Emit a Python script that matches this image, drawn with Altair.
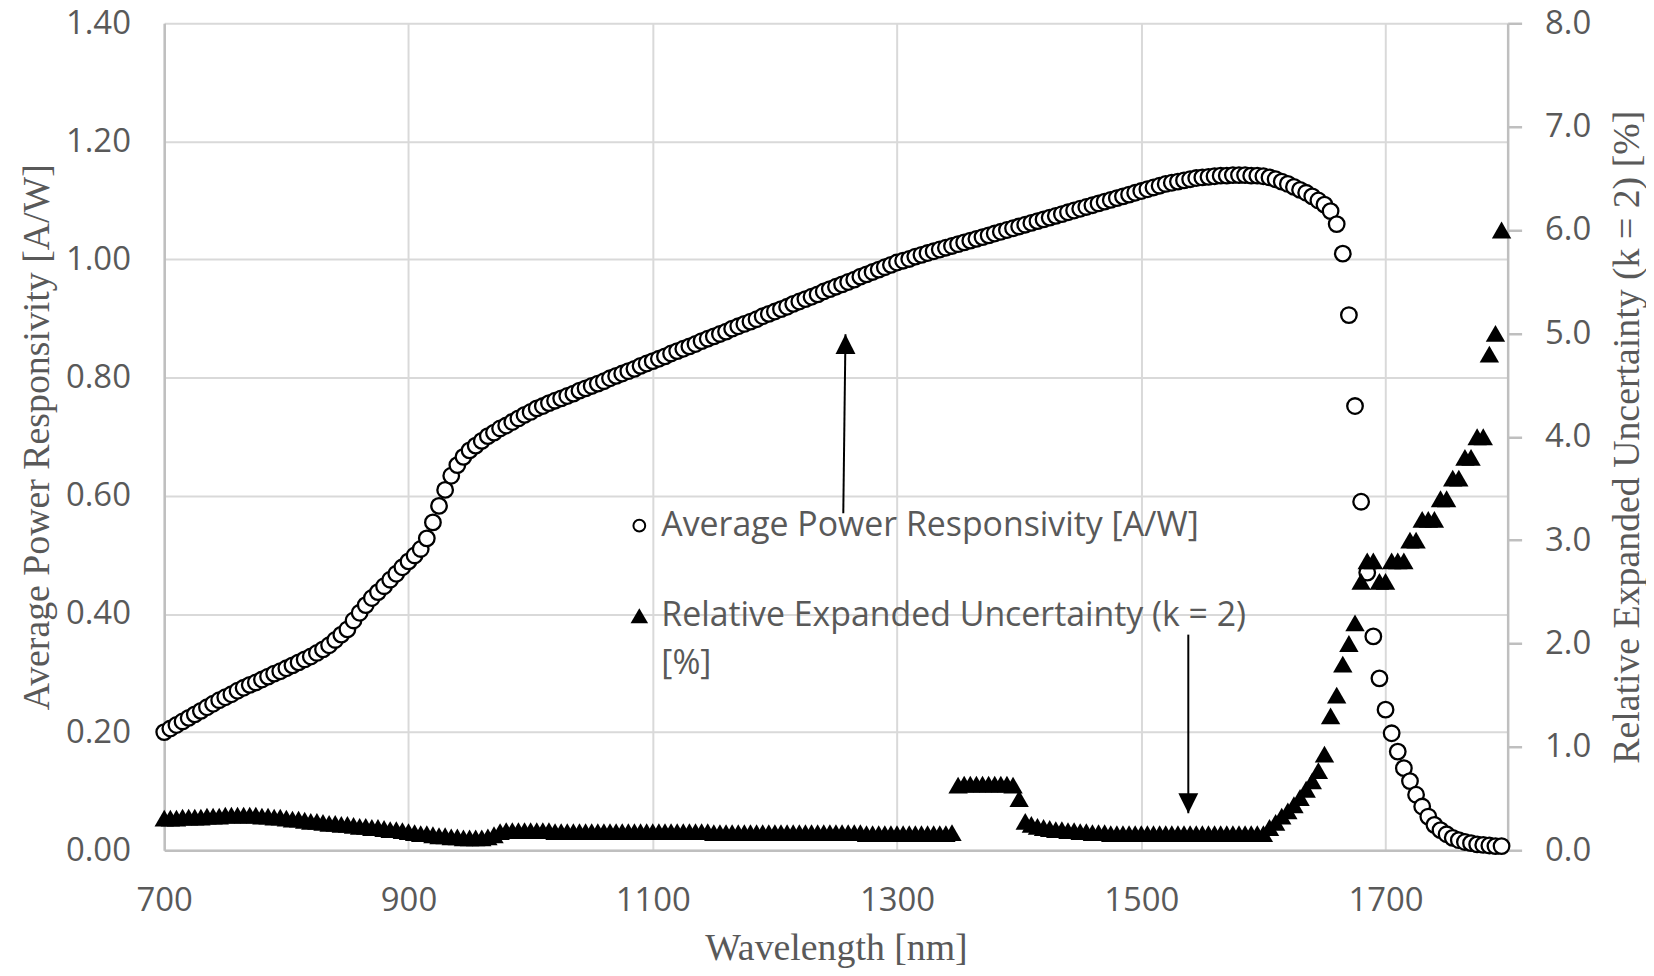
import altair as alt
import pandas as pd

# ---------------- data ----------------
WL_START = 700
WL_STEP = 5
N_POINTS = 220
wavelength_nm = [WL_START + WL_STEP * i for i in range(N_POINTS)]

# Average power responsivity [A/W], one row per 100 nm (20 samples each)
resp_700 = [0.200, 0.206, 0.212, 0.218, 0.224, 0.230, 0.236, 0.242, 0.248, 0.254,
            0.259, 0.264, 0.270, 0.275, 0.280, 0.284, 0.289, 0.294, 0.299, 0.303]
resp_800 = [0.308, 0.313, 0.318, 0.323, 0.328, 0.334, 0.340, 0.347, 0.356, 0.365,
            0.374, 0.389, 0.402, 0.415, 0.427, 0.437, 0.447, 0.458, 0.468, 0.479]
resp_900 = [0.489, 0.499, 0.510, 0.528, 0.555, 0.583, 0.610, 0.634, 0.652, 0.666,
            0.677, 0.685, 0.693, 0.701, 0.707, 0.714, 0.719, 0.725, 0.731, 0.737]
resp_1000 = [0.742, 0.748, 0.752, 0.757, 0.761, 0.765, 0.769, 0.773, 0.778, 0.782,
             0.786, 0.790, 0.794, 0.799, 0.803, 0.807, 0.811, 0.815, 0.820, 0.824]
resp_1100 = [0.828, 0.832, 0.836, 0.841, 0.845, 0.849, 0.853, 0.857, 0.862, 0.866,
             0.870, 0.874, 0.878, 0.883, 0.887, 0.891, 0.895, 0.899, 0.904, 0.908]
resp_1200 = [0.912, 0.916, 0.920, 0.925, 0.929, 0.933, 0.937, 0.941, 0.946, 0.950,
             0.954, 0.958, 0.962, 0.966, 0.971, 0.975, 0.979, 0.983, 0.987, 0.991]
resp_1300 = [0.995, 0.998, 1.001, 1.005, 1.008, 1.011, 1.014, 1.017, 1.020, 1.023,
             1.026, 1.029, 1.032, 1.035, 1.038, 1.041, 1.044, 1.047, 1.050, 1.053]
resp_1400 = [1.056, 1.059, 1.062, 1.065, 1.068, 1.071, 1.074, 1.077, 1.080, 1.083,
             1.086, 1.089, 1.092, 1.095, 1.098, 1.101, 1.104, 1.107, 1.110, 1.113]
resp_1500 = [1.116, 1.119, 1.122, 1.125, 1.128, 1.130, 1.132, 1.134, 1.136, 1.138,
             1.139, 1.140, 1.141, 1.142, 1.142, 1.143, 1.143, 1.143, 1.142, 1.142]
resp_1600 = [1.141, 1.139, 1.136, 1.132, 1.128, 1.123, 1.118, 1.113, 1.107, 1.100,
             1.093, 1.082, 1.060, 1.010, 0.906, 0.752, 0.590, 0.470, 0.362, 0.291]
resp_1700 = [0.238, 0.198, 0.167, 0.139, 0.117, 0.094, 0.074, 0.057, 0.043, 0.034,
             0.027, 0.021, 0.017, 0.014, 0.012, 0.010, 0.009, 0.008, 0.007, 0.007]

# Relative expanded uncertainty (k = 2) [%]
unc_700 = [0.31, 0.31, 0.31, 0.32, 0.32, 0.32, 0.32, 0.33, 0.33, 0.33,
           0.34, 0.34, 0.34, 0.34, 0.34, 0.34, 0.33, 0.33, 0.32, 0.32]
unc_800 = [0.31, 0.30, 0.30, 0.29, 0.28, 0.28, 0.27, 0.26, 0.26, 0.25,
           0.25, 0.24, 0.23, 0.23, 0.22, 0.22, 0.21, 0.20, 0.20, 0.19]
unc_900 = [0.18, 0.17, 0.16, 0.16, 0.15, 0.14, 0.14, 0.13, 0.13, 0.12,
           0.12, 0.12, 0.12, 0.13, 0.15, 0.18, 0.19, 0.19, 0.19, 0.19]
unc_1000 = [0.19, 0.19, 0.19, 0.19, 0.18, 0.18, 0.18, 0.18, 0.18, 0.18,
            0.18, 0.18, 0.18, 0.18, 0.18, 0.18, 0.18, 0.18, 0.18, 0.18]
unc_1100 = [0.18, 0.18, 0.18, 0.18, 0.18, 0.18, 0.18, 0.18, 0.18, 0.18,
            0.17, 0.17, 0.17, 0.17, 0.17, 0.17, 0.17, 0.17, 0.17, 0.17]
unc_1200 = [0.17, 0.17, 0.17, 0.17, 0.17, 0.17, 0.17, 0.17, 0.17, 0.17,
            0.17, 0.17, 0.17, 0.17, 0.17, 0.16, 0.16, 0.16, 0.16, 0.16]
unc_1300 = [0.16, 0.16, 0.16, 0.16, 0.16, 0.16, 0.16, 0.16, 0.16, 0.17,
            0.63, 0.64, 0.64, 0.64, 0.64, 0.64, 0.64, 0.64, 0.64, 0.63]
unc_1400 = [0.50, 0.28, 0.25, 0.23, 0.22, 0.21, 0.20, 0.20, 0.19, 0.19,
            0.18, 0.18, 0.17, 0.17, 0.17, 0.16, 0.16, 0.16, 0.16, 0.16]
unc_1500 = [0.16, 0.16, 0.16, 0.16, 0.16, 0.16, 0.16, 0.16, 0.16, 0.16,
            0.16, 0.16, 0.16, 0.16, 0.16, 0.16, 0.16, 0.16, 0.16, 0.16]
unc_1600 = [0.16, 0.22, 0.27, 0.33, 0.38, 0.44, 0.51, 0.59, 0.67, 0.77,
            0.93, 1.30, 1.50, 1.80, 2.00, 2.20, 2.60, 2.80, 2.80, 2.60]
unc_1700 = [2.60, 2.80, 2.80, 2.80, 3.00, 3.00, 3.20, 3.20, 3.20, 3.40,
            3.40, 3.60, 3.60, 3.80, 3.80, 4.00, 4.00, 4.80, 5.00, 6.00]

responsivity = (resp_700 + resp_800 + resp_900 + resp_1000 + resp_1100 + resp_1200
                + resp_1300 + resp_1400 + resp_1500 + resp_1600 + resp_1700)
uncertainty = (unc_700 + unc_800 + unc_900 + unc_1000 + unc_1100 + unc_1200
               + unc_1300 + unc_1400 + unc_1500 + unc_1600 + unc_1700)

x_ticks = [700, 900, 1100, 1300, 1500, 1700]
y_left_ticks = [0.0, 0.2, 0.4, 0.6, 0.8, 1.0, 1.2, 1.4]
y_right_ticks = [0, 1, 2, 3, 4, 5, 6, 7, 8]

series_names = ["Average Power Responsivity [A/W]",
                "Relative Expanded Uncertainty (k = 2)", "[%]"]

# annotations (data units: nm, A/W)
arrow_x0 = [1256.0, 1538.5]
arrow_x1 = [1257.8, 1538.5]
arrow_y0 = [0.5705, 0.365]
arrow_y1 = [0.8737, 0.0626]
legend_sym_x = 1089.0
legend_text_x = 1107.0
legend_y = [0.5495, 0.397, 0.316]

df = pd.DataFrame({"wl": wavelength_nm, "resp": responsivity, "unc": uncertainty})
arrows = pd.DataFrame({"x0": arrow_x0, "x1": arrow_x1, "y0": arrow_y0, "y1": arrow_y1})
leg_text = pd.DataFrame({"x": [legend_text_x] * 3, "y": legend_y, "t": series_names})
leg_sym_c = pd.DataFrame({"x": [legend_sym_x], "y": [legend_y[0]]})
leg_sym_t = pd.DataFrame({"x": [legend_sym_x], "y": [legend_y[1]]})

# ---------------- styles ----------------
SANS = "Open Sans"
SERIF = "Liberation Serif"
GREY = "#595959"
GRID = "#d9d9d9"
AXLINE = "#bfbfbf"
W, H = 1350, 831
TICK_FS = 33
TITLE_FS = 38

x_scale = alt.Scale(domain=[700, 1800], nice=False, zero=False)
yl_scale = alt.Scale(domain=[0, 1.4], nice=False)
yr_scale = alt.Scale(domain=[0, 8], nice=False)

x_axis = alt.Axis(values=x_ticks, title="Wavelength [nm]", format="d",
                  grid=True, gridColor=GRID, gridWidth=2,
                  domainColor=AXLINE, domainWidth=2.5,
                  ticks=False, tickSize=0, labelFlush=False, labelOverlap=False,
                  labelFont=SANS, labelFontSize=TICK_FS, labelColor=GREY,
                  labelPadding=61, labelBaseline="alphabetic",
                  titleFont=SERIF, titleFontSize=TITLE_FS, titleFontWeight="normal",
                  titleColor=GREY, titleX=675, titleY=110,
                  titleAlign="center", titleBaseline="alphabetic")

yl_axis = alt.Axis(values=y_left_ticks, format=".2f",
                   title="Average Power Responsivity [A/W]",
                   grid=True, gridColor=GRID, gridWidth=2,
                   domainColor=AXLINE, domainWidth=2.5,
                   ticks=False, tickSize=0, labelOverlap=False, labelFlush=False,
                   labelFont=SANS, labelFontSize=TICK_FS, labelColor=GREY,
                   labelPadding=34,
                   titleFont=SERIF, titleFontSize=TITLE_FS, titleFontWeight="normal",
                   titleColor=GREY, titleX=-127, titleY=H / 2, titleAngle=270,
                   titleAlign="center", titleBaseline="middle")

yr_axis = alt.Axis(values=y_right_ticks, format=".1f", orient="right",
                   title="Relative Expanded Uncertainty (k = 2) [%]",
                   grid=False, domainColor=AXLINE, domainWidth=2.5,
                   ticks=True, tickSize=14, tickColor=AXLINE, tickWidth=2.5,
                   labelOverlap=False, labelFlush=False,
                   labelFont=SANS, labelFontSize=TICK_FS, labelColor=GREY,
                   labelPadding=23,
                   titleFont=SERIF, titleFontSize=TITLE_FS, titleFontWeight="normal",
                   titleColor=GREY, titleX=120, titleY=H / 2, titleAngle=270,
                   titleAlign="center", titleBaseline="middle")


def xenc(field):
    return alt.X(field, scale=x_scale, axis=x_axis)


def ylenc(field):
    return alt.Y(field, scale=yl_scale, axis=yl_axis)


circles = alt.Chart(df).mark_circle(
    size=245, fill="white", stroke="black", strokeWidth=2.3, opacity=1
).encode(x=xenc("wl:Q"), y=ylenc("resp:Q"))

rules = alt.Chart(arrows).mark_rule(color="black", strokeWidth=2).encode(
    x=xenc("x0:Q"), x2="x1:Q", y=ylenc("y0:Q"), y2="y1:Q",
)
head_up = alt.Chart(arrows.iloc[[0]]).mark_point(
    shape="M0,0L-0.5,1L0.5,1Z", size=1600, filled=True, color="black", opacity=1
).encode(x=xenc("x1:Q"), y=ylenc("y1:Q"))
head_down = alt.Chart(arrows.iloc[[1]]).mark_point(
    shape="M0,0L-0.5,-1L0.5,-1Z", size=1600, filled=True, color="black", opacity=1
).encode(x=xenc("x1:Q"), y=ylenc("y1:Q"))

leg_c = alt.Chart(leg_sym_c).mark_circle(
    size=140, fill="white", stroke="black", strokeWidth=2, opacity=1
).encode(x=xenc("x:Q"), y=ylenc("y:Q"))
leg_t = alt.Chart(leg_sym_t).mark_point(
    shape="triangle-up", size=310, filled=True, color="black", opacity=1
).encode(x=xenc("x:Q"), y=ylenc("y:Q"))
leg_txt = alt.Chart(leg_text).mark_text(
    align="left", baseline="middle", font=SANS, fontSize=34, color=GREY
).encode(x=xenc("x:Q"), y=ylenc("y:Q"), text="t:N")

left_layer = alt.layer(circles, rules, head_up, head_down, leg_c, leg_t, leg_txt)

triangles = alt.Chart(df).mark_point(
    shape="triangle-up", size=380, filled=True, color="black", opacity=1
).encode(
    x=xenc("wl:Q"),
    y=alt.Y("unc:Q", scale=yr_scale, axis=yr_axis),
)

chart = alt.layer(left_layer, triangles).resolve_scale(y="independent").properties(
    width=W, height=H,
    autosize=alt.AutoSizeParams(type="none"),
    padding={"left": 157, "top": 13, "right": 139, "bottom": 116},
    background="white",
).configure_view(stroke=None)

chart.save("out.html", embed_options={"renderer": "svg", "actions": False})
